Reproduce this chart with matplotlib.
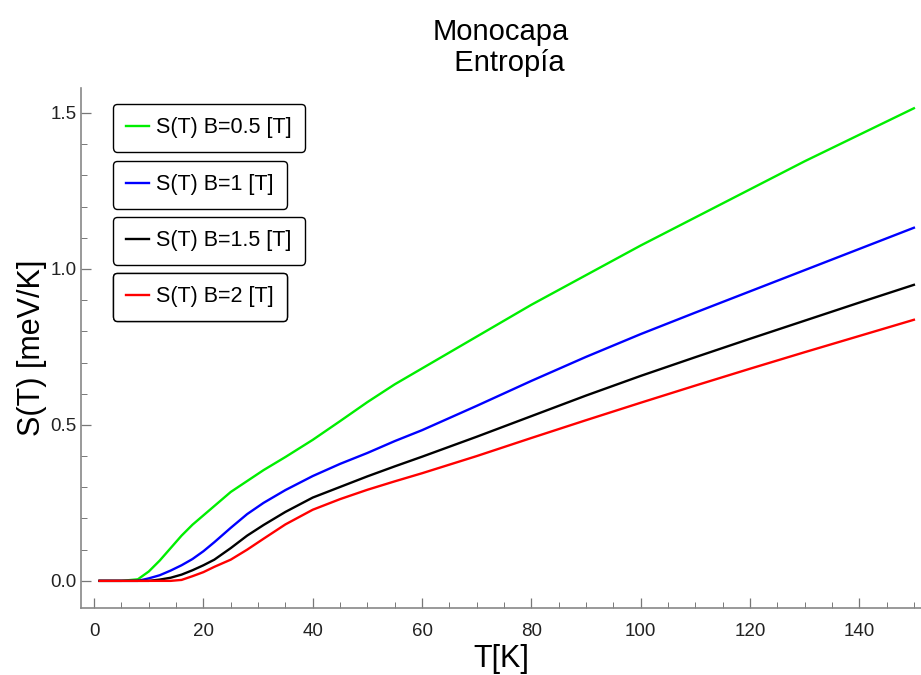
import matplotlib
matplotlib.use("Agg")
import matplotlib.pyplot as plt
from matplotlib.ticker import MultipleLocator

plt.rcParams['font.family'] = ['Liberation Sans', 'DejaVu Sans']

T = [1, 5, 8, 10, 12, 14, 16, 18, 20, 22, 25, 28, 31, 35, 40, 45, 50, 55, 60,
     70, 80, 90, 100, 110, 120, 130, 140, 150]

s_b05 = [0, 0, 0.005, 0.03, 0.065, 0.105, 0.145, 0.18, 0.21, 0.24, 0.285, 0.32,
         0.355, 0.397, 0.452, 0.512, 0.573, 0.63, 0.681, 0.783, 0.885, 0.98,
         1.075, 1.165, 1.255, 1.345, 1.43, 1.515]
s_b1 = [0, 0, 0, 0.008, 0.018, 0.033, 0.05, 0.07, 0.095, 0.124, 0.17, 0.214,
        0.25, 0.291, 0.336, 0.375, 0.41, 0.448, 0.483, 0.561, 0.641, 0.718,
        0.791, 0.86, 0.928, 0.996, 1.064, 1.132]
s_b15 = [0, 0, 0, 0, 0.004, 0.01, 0.02, 0.034, 0.05, 0.068, 0.105, 0.145,
         0.179, 0.221, 0.267, 0.301, 0.335, 0.367, 0.398, 0.462, 0.528, 0.594,
         0.657, 0.717, 0.776, 0.834, 0.892, 0.949]
s_b2 = [0, 0, 0, 0, 0, 0, 0.003, 0.015, 0.028, 0.045, 0.068, 0.1, 0.135,
        0.181, 0.228, 0.262, 0.292, 0.319, 0.345, 0.4, 0.458, 0.515, 0.571,
        0.626, 0.68, 0.733, 0.785, 0.837]

labels = ["S(T) B=0.5 [T]", "S(T) B=1 [T]", "S(T) B=1.5 [T]", "S(T) B=2 [T]"]
colors = ["#00ee00", "#0000ff", "#000000", "#ff0000"]
series = [s_b05, s_b1, s_b15, s_b2]

fig = plt.figure(figsize=(9.21, 6.75), dpi=100)
ax = fig.add_axes([81/921, 1 - 608/675, 1 - 81/921, (608 - 88)/675])

lines = []
for s, c, lab in zip(series, colors, labels):
    ln, = ax.plot(T, s, color=c, lw=1.7, label=lab, solid_joinstyle="round")
    lines.append(ln)

ax.set_xlim(-2.4, 151.3)
ax.set_ylim(-0.087, 1.58)
ax.xaxis.set_minor_locator(MultipleLocator(5))
ax.yaxis.set_minor_locator(MultipleLocator(0.1))
ax.set_xticks([0, 20, 40, 60, 80, 100, 120, 140])
ax.set_xticklabels(["0", "20", "40", "60", "80", "100", "120", "140"])
ax.set_yticks([0.0, 0.5, 1.0, 1.5])
ax.set_yticklabels(["0.0", "0.5", "1.0", "1.5"])

for sp in ["top", "right"]:
    ax.spines[sp].set_visible(False)
for sp in ["left", "bottom"]:
    ax.spines[sp].set_color("#888888")
    ax.spines[sp].set_linewidth(1.2)
ax.tick_params(which="major", direction="in", length=7, width=0.9, color="#777777",
               labelsize=13.5, labelcolor="#222222")
ax.tick_params(which="minor", direction="in", length=4, width=0.7, color="#777777")
ax.tick_params(axis="x", which="major", pad=11)
ax.tick_params(axis="y", which="major", pad=3)

ax.set_xlabel("T[K]", fontsize=22)
ax.set_ylabel("S(T) [meV/K]", fontsize=22)
ax.xaxis.set_label_coords(0.5, -0.07)
ax.yaxis.set_label_coords(-0.04, 0.5)
ax.set_title("Monocapa\n  Entropía", fontsize=21, pad=12, linespacing=1.15)

tops = [104, 161, 217, 273]
for ln, top in zip(lines, tops):
    leg = ax.legend(handles=[ln], loc="upper left",
                    bbox_to_anchor=(113/921, 1 - top/675), bbox_transform=fig.transFigure,
                    fontsize=15.5, frameon=True, fancybox=True, edgecolor="black",
                    framealpha=1, borderaxespad=0, handlelength=1.05, handletextpad=0.35,
                    borderpad=0.62, labelspacing=0)
    leg.get_frame().set_linewidth(1.0)
    ax.add_artist(leg)

fig.savefig("out.png", dpi=100)
